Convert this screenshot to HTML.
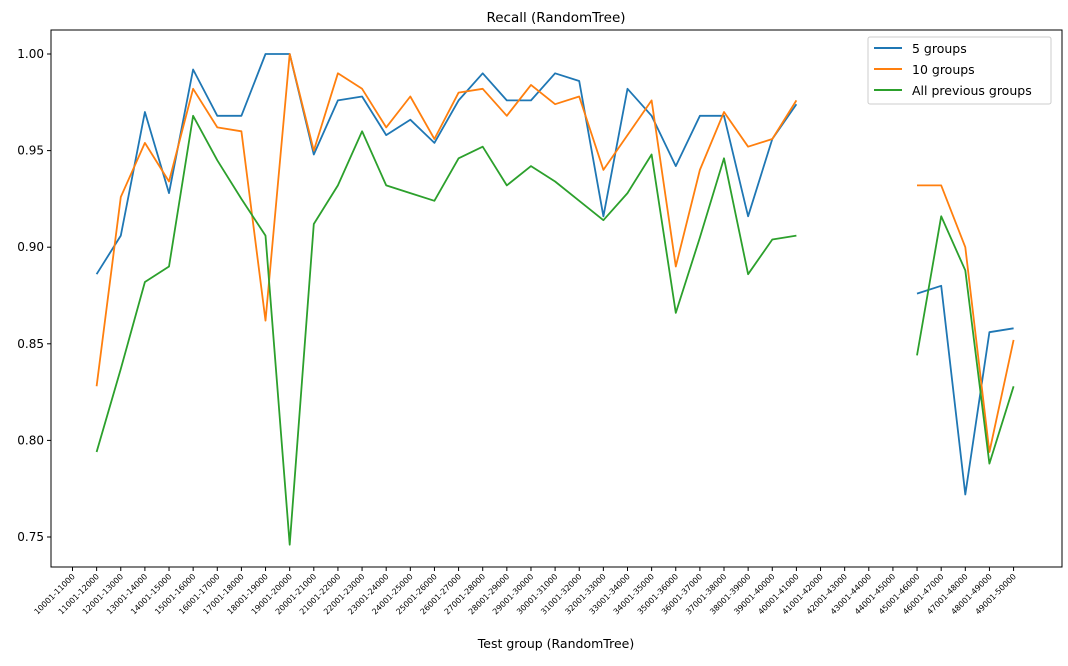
<!DOCTYPE html>
<html><head><meta charset="utf-8"><style>
body{margin:0;background:#fff;font-family:"Liberation Sans","DejaVu Sans",sans-serif}
svg text{font-family:"DejaVu Sans","Liberation Sans",sans-serif}
</style></head><body>
<svg id="chart" width="1068" height="661" viewBox="0 0 1068 661" xmlns="http://www.w3.org/2000/svg">
<rect width="1068" height="661" fill="#fff"/>
<text x="556" y="22" font-size="13.5" text-anchor="middle">Recall (RandomTree)</text>
<text x="556" y="648" font-size="12.5" text-anchor="middle">Test group (RandomTree)</text>
<g id="grid"></g>
<g id="series"></g>
<rect x="51" y="30" width="1011" height="537" fill="none" stroke="#000" stroke-width="1"/>
<g>
<rect x="868" y="37" width="183" height="67" fill="#fff" stroke="#ccc" rx="2"/>
<line x1="874" y1="48" x2="902" y2="48" stroke="#1f77b4" stroke-width="2"/>
<text x="912" y="53" font-size="12.5">5 groups</text>
<line x1="874" y1="69" x2="902" y2="69" stroke="#ff7f0e" stroke-width="2"/>
<text x="912" y="74" font-size="12.5">10 groups</text>
<line x1="874" y1="90" x2="902" y2="90" stroke="#2ca02c" stroke-width="2"/>
<text x="912" y="95" font-size="12.5">All previous groups</text>
</g>
</svg>
<script>
const categories=[];for(let k=10;k<50;k++){categories.push((k*1000+1)+'-'+((k+1)*1000));}
const yTicks=[0.75,0.80,0.85,0.90,0.95,1.00];
const yTickLabels=["0.75","0.80","0.85","0.90","0.95","1.00"];
const seriesNames=["5 groups","10 groups","All previous groups"];
const fiveGroups=[null,.886,.906,.970,.928,.992,.968,.968,1.0,1.0,.948,.976,.978,.958,.966,.954,.976,.990,.976,.976,.990,.986,.916,.982,.968,.942,.968,.968,.916,.956,.974,null,null,null,null,.876,.880,.772,.856,.858];
const tenGroups=[null,.828,.926,.954,.934,.982,.962,.960,.862,1.0,.950,.990,.982,.962,.978,.956,.980,.982,.968,.984,.974,.978,.940,.958,.976,.890,.940,.970,.952,.956,.976,null,null,null,null,.932,.932,.900,.794,.852];
const allPrev=[null,.794,.837,.882,.890,.968,.945,.925,.906,.746,.912,.932,.960,.932,.928,.924,.946,.952,.932,.942,.934,.924,.914,.928,.948,.866,.905,.946,.886,.904,.906,null,null,null,null,.844,.916,.888,.788,.828];
const colors=["#1f77b4","#ff7f0e","#2ca02c"];
const NS="http://www.w3.org/2000/svg";
function xs(i){return 72.5+i*24.13;}
function ys(v){return 54+(1-v)*1932;}
const g=document.getElementById('grid');
yTicks.forEach((t,i)=>{
 const l=document.createElementNS(NS,'line');
 
 
 l.setAttribute('x1',47);l.setAttribute('x2',51);l.setAttribute('y1',ys(t));l.setAttribute('y2',ys(t));l.setAttribute('stroke','#000');g.appendChild(l);
 const tx=document.createElementNS(NS,'text');
 
 
 tx.setAttribute('x',44);tx.setAttribute('y',ys(t)+4);tx.setAttribute('font-size','12');tx.setAttribute('text-anchor','end');tx.textContent=yTickLabels[i];g.appendChild(tx);
});
categories.forEach((c,i)=>{
 const x=xs(i);
 const l=document.createElementNS(NS,'line');
 
 
 l.setAttribute('x1',x);l.setAttribute('x2',x);l.setAttribute('y1',567);l.setAttribute('y2',571);l.setAttribute('stroke','#000');g.appendChild(l);
 const tx=document.createElementNS(NS,'text');
 
 
 tx.setAttribute('x',x+3);tx.setAttribute('y',577);tx.setAttribute('font-size','8');tx.setAttribute('text-anchor','end');
 tx.setAttribute('transform','rotate(-45 '+(x+3)+' 577)');tx.textContent=c;g.appendChild(tx);
});
const sg=document.getElementById('series');
[fiveGroups,tenGroups,allPrev].forEach((arr,si)=>{
 let d='',pen=false;
 arr.forEach((v,i)=>{
  if(v==null){pen=false;return;}
  d+=(pen?'L':'M')+xs(i).toFixed(1)+' '+ys(v).toFixed(1)+' ';pen=true;
 });
 const p=document.createElementNS(NS,'path');
 
 
 p.setAttribute('d',d);p.setAttribute('fill','none');p.setAttribute('stroke',colors[si]);p.setAttribute('stroke-width','1.8');p.setAttribute('stroke-linejoin','round');
 sg.appendChild(p);
});
</script>
</body></html>
